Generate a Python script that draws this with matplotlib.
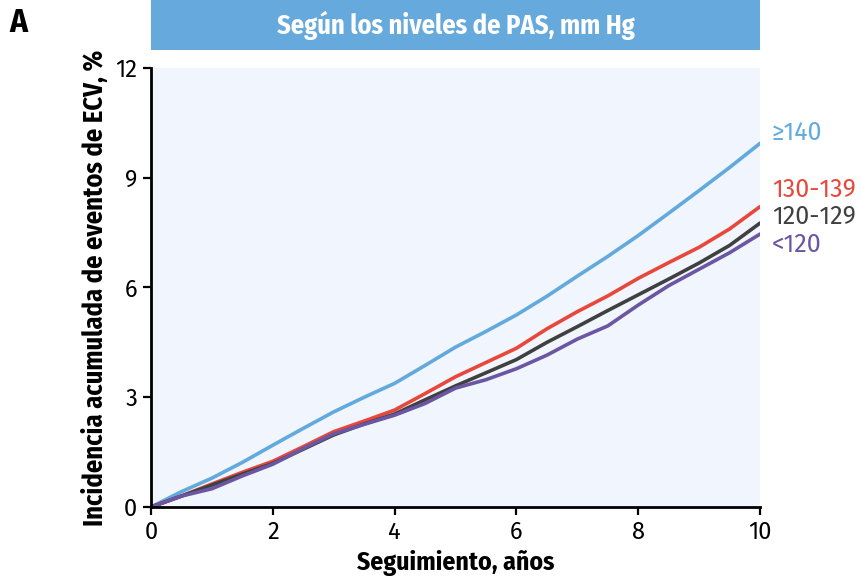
import matplotlib
matplotlib.use('Agg')
import matplotlib.pyplot as plt
from matplotlib.patches import Rectangle

# follow-up time (years) and cumulative incidence (%) per SBP group
years = [0, 0.5, 1, 1.5, 2, 2.5, 3, 3.5, 4, 4.5, 5, 5.5, 6, 6.5, 7, 7.5, 8, 8.5, 9, 9.5, 10]
sbp_140 = [0, 0.42, 0.79, 1.22, 1.69, 2.15, 2.6, 3.0, 3.38, 3.87, 4.37, 4.8, 5.25, 5.76, 6.31, 6.85, 7.42, 8.03, 8.65, 9.28, 9.94]
sbp_130 = [0, 0.30, 0.63, 0.95, 1.25, 1.65, 2.06, 2.35, 2.65, 3.10, 3.56, 3.95, 4.34, 4.87, 5.34, 5.77, 6.25, 6.68, 7.10, 7.60, 8.21]
sbp_120 = [0, 0.30, 0.60, 0.90, 1.19, 1.58, 1.97, 2.27, 2.54, 2.93, 3.31, 3.67, 4.03, 4.50, 4.93, 5.37, 5.80, 6.23, 6.67, 7.15, 7.76]
sbp_lt120 = [0, 0.30, 0.50, 0.85, 1.17, 1.60, 2.00, 2.26, 2.51, 2.83, 3.25, 3.48, 3.78, 4.15, 4.59, 4.95, 5.52, 6.05, 6.50, 6.95, 7.46]

groups = ['≥140', '130-139', '120-129', '<120']
colors = ['#62a9de', '#e8483b', '#404040', '#6a56a3']
label_y = [10.22, 8.67, 7.93, 7.16]

lab_font = ['Fira Sans Condensed', 'DejaVu Sans']
num_font = ['Fira Sans', 'DejaVu Sans']

fig = plt.figure(figsize=(8.62, 5.85), dpi=100)
ax = fig.add_axes([0.1752, 0.1333, 0.7065, 0.7505])
ax.set_facecolor('#f1f5fd')

for name, vals, col, ly in zip(groups, [sbp_140, sbp_130, sbp_120, sbp_lt120], colors, label_y):
    ax.plot(years, vals, color=col, lw=2.6, solid_capstyle='round')
    ax.text(10.2, ly, name, color=col, fontsize=18, family=num_font,
            va='center', ha='left', clip_on=False)

ax.set_xlim(0, 10)
ax.set_ylim(0, 12)
ax.set_xticks([0, 2, 4, 6, 8, 10])
ax.set_yticks([0, 3, 6, 9, 12])
for lab in ax.get_xticklabels() + ax.get_yticklabels():
    lab.set_family(num_font)
    lab.set_fontsize(17)
ax.tick_params(direction='out', length=6, width=1.6, colors='black', pad=4)

for s in ['top', 'right']:
    ax.spines[s].set_visible(False)
for s in ['left', 'bottom']:
    ax.spines[s].set_linewidth(2)

ax.set_xlabel('Seguimiento, años', family=lab_font, fontweight='bold', fontsize=18.5, labelpad=4)
ax.set_ylabel('Incidencia acumulada de eventos de ECV, %', family=lab_font,
              fontweight='bold', fontsize=19, labelpad=5)

# header band
fig.patches.append(Rectangle((0.1752, 0.9145), 0.7065, 0.0855, transform=fig.transFigure,
                             facecolor='#66a9dc', edgecolor='none'))
fig.text(0.1752 + 0.7065 / 2, 0.957, 'Según los niveles de PAS, mm Hg', color='white',
         family=lab_font, fontweight='bold', fontsize=19, ha='center', va='center')

fig.text(0.011, 0.96, 'A', family=lab_font, fontweight='bold', fontsize=24, ha='left', va='center')

fig.savefig('out.png', dpi=100)
